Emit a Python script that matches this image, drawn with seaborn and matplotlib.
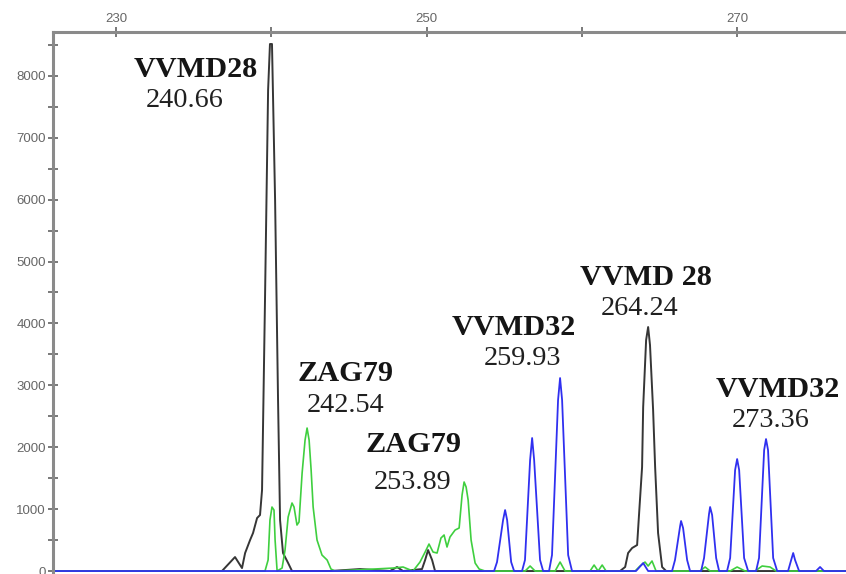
import matplotlib
matplotlib.use("Agg")
import matplotlib.pyplot as plt
import matplotlib.ticker as mticker
import seaborn as sns
import pandas as pd

# ---- data (size in bp, RFU) ----
black_x = [225.94, 236.82, 237.66, 238.11, 238.31, 238.63, 238.82, 239.08, 239.27, 239.40,
           239.59, 239.79, 239.91, 240.04, 240.24, 240.43, 240.56, 240.75, 241.08, 241.33,
           243.78, 245.71, 247.64, 248.09, 248.48, 249.70, 249.90, 250.09, 250.35, 250.54,
           262.45, 262.78, 262.97, 263.23, 263.55, 263.68, 263.87, 263.94, 264.13, 264.26,
           264.38, 264.58, 264.71, 264.90, 265.16, 265.42, 277.0]
black_y = [0, 0, 226, 48, 291, 501, 614, 856, 905, 1309,
           4378, 7771, 8514, 8514, 5993, 2763, 824, 291, 129, 0,
           0, 32, 0, 65, 0, 32, 178, 339, 178, 0,
           0, 65, 291, 372, 420, 937, 1680, 2649, 3732, 3942,
           3651, 2601, 1680, 614, 65, 0, 0]

green_x = [225.94, 239.59, 239.79, 239.91, 240.04, 240.17, 240.24, 240.37, 240.69, 240.88,
           241.08, 241.33, 241.46, 241.65, 241.78, 241.98, 242.17, 242.30, 242.43, 242.56,
           242.69, 242.94, 243.26, 243.59, 243.84, 244.10, 247.84, 248.48, 249.12, 249.57,
           249.90, 250.15, 250.41, 250.67, 250.92, 251.12, 251.31, 251.50, 251.83, 252.09,
           252.28, 252.41, 252.54, 252.67, 252.86, 253.12, 253.38, 253.76, 256.34, 256.66,
           256.98, 258.27, 258.59, 258.91, 260.52, 260.78, 261.04, 261.30, 261.55, 263.42,
           263.74, 264.06, 264.26, 264.51, 264.77, 267.60, 267.93, 268.25, 269.54, 269.99,
           270.50, 271.15, 271.60, 272.11, 272.50, 277.0]
green_y = [0, 0, 178, 824, 1034, 985, 501, 0, 48, 339,
           872, 1099, 1034, 743, 792, 1583, 2116, 2310, 2116, 1632,
           1034, 501, 258, 178, 32, 0, 48, 65, 0, 145,
           307, 436, 307, 291, 533, 582, 388, 549, 662, 695,
           1228, 1438, 1357, 1147, 501, 129, 32, 0, 0, 81,
           0, 0, 145, 0, 0, 97, 0, 97, 0, 0,
           81, 145, 81, 162, 0, 0, 65, 0, 0, 65,
           0, 0, 81, 65, 0, 0]

blue_x = [225.94, 254.34, 254.53, 254.92, 255.05, 255.18, 255.44, 255.63,
          256.14, 256.33, 256.66, 256.79, 256.92, 257.30, 257.50,
          257.88, 258.07, 258.46, 258.59, 258.72, 259.11, 259.36,
          263.48, 263.94, 264.26,
          265.80, 265.99, 266.32, 266.38, 266.51, 266.77, 266.96,
          267.67, 267.86, 268.18, 268.25, 268.38, 268.64, 268.83,
          269.34, 269.54, 269.86, 269.99, 270.12, 270.44, 270.70,
          271.21, 271.40, 271.73, 271.85, 271.98, 272.31, 272.57,
          273.27, 273.47, 273.60, 273.72, 273.98,
          275.07, 275.33, 275.58, 277.0]
blue_y = [0, 0, 145, 824, 985, 824, 145, 0,
          0, 178, 1793, 2149, 1793, 178, 0,
          0, 258, 2763, 3118, 2763, 258, 0,
          0, 129, 0,
          0, 178, 727, 808, 695, 178, 0,
          0, 210, 921, 1034, 905, 210, 0,
          0, 210, 1632, 1809, 1632, 210, 0,
          0, 210, 1955, 2132, 1955, 210, 0,
          0, 178, 291, 178, 0,
          0, 65, 0, 0]

# peak annotations: marker name, size label, position of the text
ann_names = ["VVMD28", "ZAG79", "ZAG79", "VVMD32", "VVMD 28", "VVMD32"]
ann_sizes = ["240.66", "242.54", "253.89", "259.93", "264.24", "273.36"]
ann_name_x = [235.15, 244.75, 249.12, 255.63, 264.13, 272.63]
ann_name_y = [8110, 3199, 2036, 3942, 4750, 2940]
ann_size_x = [234.44, 244.75, 249.12, 256.14, 263.74, 272.18]
ann_size_y = [7609, 2682, 1438, 3441, 4249, 2439]

x_major = [230, 250, 270]
x_minor = [240, 260]
y_major = [0, 1000, 2000, 3000, 4000, 5000, 6000, 7000, 8000]

# ---- plot ----
sns.set_theme(style="white")
plt.rcParams["font.family"] = ["Liberation Sans", "DejaVu Sans"]

fig = plt.figure(figsize=(8.46, 5.74), dpi=100)
ax = fig.add_axes([53 / 846, 0.0, 1 - 53 / 846, (574 - 32) / 574])

traces = [
    (black_x, black_y, "#363636", 1.4),
    (green_x, green_y, "#3fcf3f", 1.2),
    (blue_x, blue_y, "#3030f0", 1.3),
]
for xs, ys, col, lw in traces:
    df = pd.DataFrame({"size": xs, "rfu": ys})
    sns.lineplot(data=df, x="size", y="rfu", ax=ax, color=col, linewidth=lw,
                 sort=False, estimator=None)

ax.set_xlim(225.94, 277.0)
ax.set_ylim(-48, 8708)
ax.set_xlabel("")
ax.set_ylabel("")

ax.xaxis.tick_top()
ax.xaxis.set_major_locator(mticker.FixedLocator(x_major))
ax.xaxis.set_minor_locator(mticker.FixedLocator(x_minor))
ax.yaxis.set_major_locator(mticker.FixedLocator(y_major))
ax.yaxis.set_minor_locator(mticker.MultipleLocator(500))

spine_col = "#8a8a8a"
for side in ["right", "bottom"]:
    ax.spines[side].set_visible(False)
for side in ["left", "top"]:
    ax.spines[side].set_visible(True)
    ax.spines[side].set_color(spine_col)
    ax.spines[side].set_linewidth(2.2)

ax.tick_params(axis="both", which="both", direction="inout", color="#555555",
               width=1.1, length=6.5, labelsize=9.5, labelcolor="#666666")
ax.tick_params(axis="y", which="both", left=True, right=False, labelleft=True)
ax.tick_params(axis="x", which="both", top=True, bottom=False, labeltop=True,
               labelbottom=False)
ax.tick_params(axis="y", which="major", pad=2)
ax.tick_params(axis="x", which="major", pad=2)
ax.grid(False)

for nm, sz, nx, ny, sx, sy in zip(ann_names, ann_sizes, ann_name_x, ann_name_y,
                                  ann_size_x, ann_size_y):
    ax.text(nx, ny, nm, ha="center", va="center", fontsize=21.8, fontweight="bold",
            family=["Liberation Serif", "DejaVu Serif"], color="#151515")
    ax.text(sx, sy, sz, ha="center", va="center", fontsize=20.3,
            family=["Liberation Serif", "DejaVu Serif"], color="#202020")

fig.savefig("out.png", dpi=100)
